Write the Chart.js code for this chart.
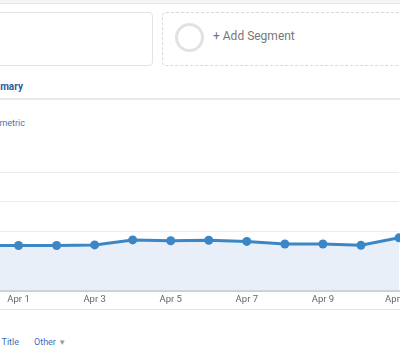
<!DOCTYPE html>
<html>
<head>
<meta charset="utf-8">
<title>Audience Overview</title>
<script src="https://cdn.jsdelivr.net/npm/chart.js@4.4.0/dist/chart.umd.min.js"></script>
<style>
  html, body { margin: 0; padding: 0; background: #fff; }
  body { width: 400px; height: 350px; position: relative; overflow: hidden; font-family: Roboto, Arial, sans-serif; }
  .topbar { position: absolute; left: 0; top: 0; width: 400px; height: 3px; background: #f5f5f5; border-bottom: 1px solid #e6e6e6; }
  .seg { position: absolute; top: 12px; height: 54px; border-radius: 4px; box-sizing: border-box; }
  .seg1 { left: -20px; width: 173px; border: 1px solid #e3e3e3; }
  .seg2 { left: 162px; width: 260px; border: 1px dashed #d9d9d9; }
  .ring { position: absolute; left: 12px; top: 10px; width: 23px; height: 23px; border: 3px solid #e2e2e2; border-radius: 50%; }
  .addseg { position: absolute; left: 50px; top: 16px; font-size: 12px; line-height: 14px; color: #777; white-space: nowrap; }
  .tabline { position: absolute; left: 0; top: 98px; width: 400px; height: 2px; background: #e9e9e9; }
  .tab { position: absolute; right: 377px; top: 81px; font-size: 10px; line-height: 12px; font-weight: bold; color: #2f5b9f; white-space: nowrap; }
  .metric { position: absolute; right: 375px; top: 117px; font-size: 9px; line-height: 12px; color: #4a74b4; white-space: nowrap; }
  .sep { position: absolute; left: 0; top: 309px; width: 400px; height: 1px; background: #e3e3e3; }
  .dims { position: absolute; top: 336px; font-size: 9px; line-height: 12px; color: #3f6fba; white-space: nowrap; }
  .dim1 { right: 381px; }
  .dim2 { left: 34px; }
  .dim2 span { color: #9a9a9a; font-size: 8px; }
  #chart { position: absolute; left: -24px; top: 162px; }
</style>
</head>
<body>
<div class="topbar"></div>
<div class="seg seg1"></div>
<div class="seg seg2"><div class="ring"></div><div class="addseg">+ Add Segment</div></div>
<div class="tab">Summary</div>
<div class="tabline"></div>
<div class="metric">Select a metric</div>
<canvas id="chart" width="448" height="146"></canvas>
<div class="sep"></div>
<div class="dims dim1">Page Title</div>
<div class="dims dim2">Other <span>&#9660;</span></div>

<script>
// one point per day, Mar 31 .. Apr 11
const days = ['Mar 31', 'Apr 1', 'Apr 2', 'Apr 3', 'Apr 4', 'Apr 5', 'Apr 6', 'Apr 7', 'Apr 8', 'Apr 9', 'Apr 10', 'Apr 11'];
const sessions = [152, 152, 152, 154, 171, 168, 170, 166, 157, 157, 153, 178];
const yTicks = [0, 100, 200, 300, 400];

const ctx = document.getElementById('chart').getContext('2d');
new Chart(ctx, {
  type: 'line',
  data: {
    labels: days,
    datasets: [{
      label: 'Sessions',
      data: sessions,
      borderColor: '#3d86c5',
      backgroundColor: '#e8eff8',
      borderWidth: 3,
      pointRadius: 4.5,
      pointBackgroundColor: '#3d86c5',
      pointBorderWidth: 0,
      fill: 'origin',
      tension: 0
    }]
  },
  options: {
    responsive: false,
    animation: false,
    layout: { padding: { top: 10, right: 25, left: 0, bottom: 0 } },
    plugins: { legend: { display: false }, tooltip: { enabled: false } },
    scales: {
      x: {
        grid: { display: false, drawTicks: false },
        border: { color: '#cfcfcf', width: 2 },
        ticks: {
          autoSkip: false,
          maxRotation: 0,
          padding: 3,
          color: '#666',
          font: { family: 'Roboto, Arial, sans-serif', size: 9.5 },
          // every second day gets a label
          callback: function(val, i) { return i % 2 === 1 ? days[i] : ''; }
        }
      },
      y: {
        min: yTicks[0],
        max: yTicks[yTicks.length - 1],
        afterBuildTicks: function(scale) { scale.ticks = yTicks.map(v => ({ value: v })); },
        grid: { color: '#ededed', drawTicks: false },
        border: { display: false },
        ticks: { display: false }
      }
    }
  }
});
</script>
</body>
</html>
